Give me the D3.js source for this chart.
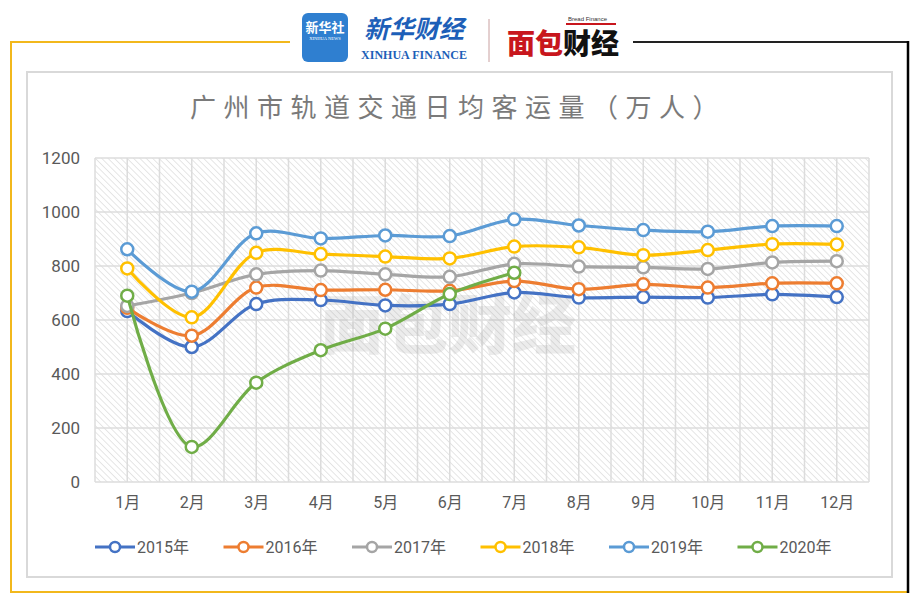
<!DOCTYPE html>
<html><head><meta charset="utf-8">
<script src="https://cdn.jsdelivr.net/npm/d3@7"></script>
<style>
html,body{margin:0;padding:0;background:#fff;}
svg{display:block;}
</style></head>
<body>
<svg id="c" width="919" height="604"></svg>
<script>
const months = ["1月","2月","3月","4月","5月","6月","7月","8月","9月","10月","11月","12月"];
const yTicks = [0,200,400,600,800,1000,1200];
const seriesNames = ["2015年","2016年","2017年","2018年","2019年","2020年"];
const seriesColors = ["#4472C4","#ED7D31","#A5A5A5","#FFC000","#5B9BD5","#70AD47"];
const v2015 = [633,500,659,674,654,659,702,683,685,683,695,685];
const v2016 = [645,542,720,711,712,708,744,714,732,720,736,736];
const v2017 = [652,700,769,783,769,760,808,798,795,789,813,818];
const v2018 = [791,610,849,844,835,828,872,869,840,859,881,880];
const v2019 = [862,705,921,902,913,911,973,950,933,927,948,948];
const v2020 = [690,130,368,488,568,696,775];
const allSeries = [v2015,v2016,v2017,v2018,v2019,v2020];
const title = "广州市轨道交通日均客运量（万人）";

const svg = d3.select("#c");
const font = "Roboto, 'Noto Sans CJK SC', sans-serif";

// outer frame
svg.append("line").attr("x1",11).attr("y1",42).attr("x2",290).attr("y2",42).attr("stroke","#F2B81C").attr("stroke-width",2);
svg.append("line").attr("x1",11).attr("y1",41).attr("x2",11).attr("y2",593).attr("stroke","#F2B81C").attr("stroke-width",2);
svg.append("line").attr("x1",10).attr("y1",592).attr("x2",908).attr("y2",592).attr("stroke","#F2B81C").attr("stroke-width",2);
svg.append("line").attr("x1",633).attr("y1",42).attr("x2",909).attr("y2",42).attr("stroke","#222").attr("stroke-width",2);
svg.append("line").attr("x1",908).attr("y1",41).attr("x2",908).attr("y2",593).attr("stroke","#000").attr("stroke-width",2.5);

// inner chart box
svg.append("rect").attr("x",27).attr("y",72).attr("width",865).attr("height",505)
  .attr("fill","#fff").attr("stroke","#d9d9d9").attr("stroke-width",2);

// logos
const lg = svg.append("g");
lg.append("rect").attr("x",302).attr("y",13).attr("width",46).attr("height",49).attr("rx",6).attr("fill","#2f7fd0");
lg.append("text").attr("x",325).attr("y",32).attr("text-anchor","middle").attr("fill","#fff")
  .attr("font-family","'Noto Sans CJK SC'").attr("font-size",13).attr("font-weight",700).text("新华社");
lg.append("text").attr("x",325).attr("y",40).attr("text-anchor","middle").attr("fill","#fff")
  .attr("font-family","'Liberation Serif'").attr("font-size",4.5).text("XINHUA NEWS");
lg.append("text").attr("x",414).attr("y",38).attr("text-anchor","middle").attr("fill","#1d5fb8")
  .attr("font-family","'Noto Sans CJK SC'").attr("font-size",25).attr("font-weight",700).attr("font-style","italic").text("新华财经");
lg.append("text").attr("x",414).attr("y",59).attr("text-anchor","middle").attr("fill","#1d5fb8")
  .attr("font-family","'Liberation Serif'").attr("font-size",12).attr("font-weight",700).attr("textLength",106).text("XINHUA FINANCE");
lg.append("line").attr("x1",489).attr("y1",19).attr("x2",489).attr("y2",62).attr("stroke","#c9a0a0").attr("stroke-width",1);
lg.append("text").attr("x",507).attr("y",54).attr("fill","#c8161d")
  .attr("font-family","'Noto Sans CJK SC'").attr("font-size",28).attr("font-weight",900).text("面包");
lg.append("text").attr("x",563).attr("y",54).attr("fill","#111")
  .attr("font-family","'Noto Sans CJK SC'").attr("font-size",28).attr("font-weight",900).text("财经");
lg.append("text").attr("x",568).attr("y",21).attr("fill","#333")
  .attr("font-family","'Liberation Sans'").attr("font-size",6).text("Bread Finance");
lg.append("rect").attr("x",566).attr("y",23).attr("width",50).attr("height",2).attr("fill","#c8161d");

// title
svg.append("text").attr("x",458).attr("y",117).attr("text-anchor","middle")
  .attr("font-family","'Noto Sans CJK SC'").attr("font-size",26).attr("fill","#7a7a7a")
  .attr("letter-spacing",7.5).text(title);

// scales
const x = d3.scalePoint().domain(months).range([95,869]).padding(0.5);
const y = d3.scaleLinear().domain([0,1200]).range([482,158]);
const step = x.step();

// hatch pattern
const defs = svg.append("defs");
const pat = defs.append("pattern").attr("id","hatch").attr("patternUnits","userSpaceOnUse")
  .attr("width",4.5).attr("height",4.5).attr("patternTransform","rotate(-45)");
pat.append("rect").attr("width",4.5).attr("height",4.5).attr("fill","#fff");
pat.append("line").attr("x1",0).attr("y1",0).attr("x2",0).attr("y2",4.5).attr("stroke","#d6d6d6").attr("stroke-width",1.2);

svg.append("rect").attr("x",95).attr("y",y(1200)).attr("width",869-95).attr("height",y(0)-y(1200)).attr("fill","url(#hatch)");

// gridlines
const grid = svg.append("g");
const vx = [];
months.forEach(m=>{ vx.push(x(m)-step/2); vx.push(x(m)); });
vx.push(x(months[months.length-1])+step/2);
grid.selectAll("line.v").data(vx).join("line").attr("class","v")
  .attr("x1",d=>d).attr("x2",d=>d).attr("y1",y(1200)).attr("y2",y(0))
  .attr("stroke","#dcdcdc").attr("stroke-width",1.5);
grid.selectAll("line.h").data(yTicks).join("line").attr("class","h")
  .attr("x1",95).attr("x2",869).attr("y1",d=>y(d)).attr("y2",d=>y(d))
  .attr("stroke","#dcdcdc").attr("stroke-width",1.5);

// watermark
svg.append("text").attr("x",448).attr("y",348).attr("text-anchor","middle")
  .attr("font-family","'Noto Sans CJK SC'").attr("font-size",64).attr("font-weight",900)
  .attr("fill","#999").attr("opacity",0.18).text("面包财经");

// axes
const yAxis = d3.axisLeft(y).tickValues(yTicks).tickFormat(d3.format("d")).tickSize(0).tickPadding(15);
const gy = svg.append("g").attr("transform","translate(95,0)").call(yAxis);
gy.select(".domain").remove();
gy.selectAll("text").attr("font-family",font).attr("font-size",17).attr("fill","#595959");

const xAxis = d3.axisBottom(x).tickSize(0).tickPadding(15);
const gx = svg.append("g").attr("transform","translate(0,482)").call(xAxis);
gx.select(".domain").remove();
gx.selectAll("text").attr("font-family",font).attr("font-size",16).attr("fill","#595959");

// series
const line = d3.line().x((d,i)=>x(months[i])).y(d=>y(d)).curve(d3.curveCatmullRom.alpha(0.5));
allSeries.forEach((vals,si)=>{
  const g = svg.append("g");
  g.append("path").datum(vals).attr("d",line).attr("fill","none")
    .attr("stroke",seriesColors[si]).attr("stroke-width",3.2).attr("stroke-linejoin","round");
  g.selectAll("circle").data(vals).join("circle")
    .attr("cx",(d,i)=>x(months[i])).attr("cy",d=>y(d)).attr("r",6)
    .attr("fill","#fff").attr("stroke",seriesColors[si]).attr("stroke-width",2.5);
});

// legend
const leg = svg.append("g");
seriesNames.forEach((n,i)=>{
  const lx = 95 + i*128.5;
  const ly = 547;
  leg.append("line").attr("x1",lx).attr("x2",lx+40).attr("y1",ly).attr("y2",ly)
    .attr("stroke",seriesColors[i]).attr("stroke-width",3.2);
  leg.append("circle").attr("cx",lx+20).attr("cy",ly).attr("r",5)
    .attr("fill","#fff").attr("stroke",seriesColors[i]).attr("stroke-width",2.5);
  leg.append("text").attr("x",lx+42).attr("y",ly).attr("dy","0.35em")
    .attr("font-family",font).attr("font-size",16).attr("fill","#595959").text(n);
});
</script>
</body></html>
